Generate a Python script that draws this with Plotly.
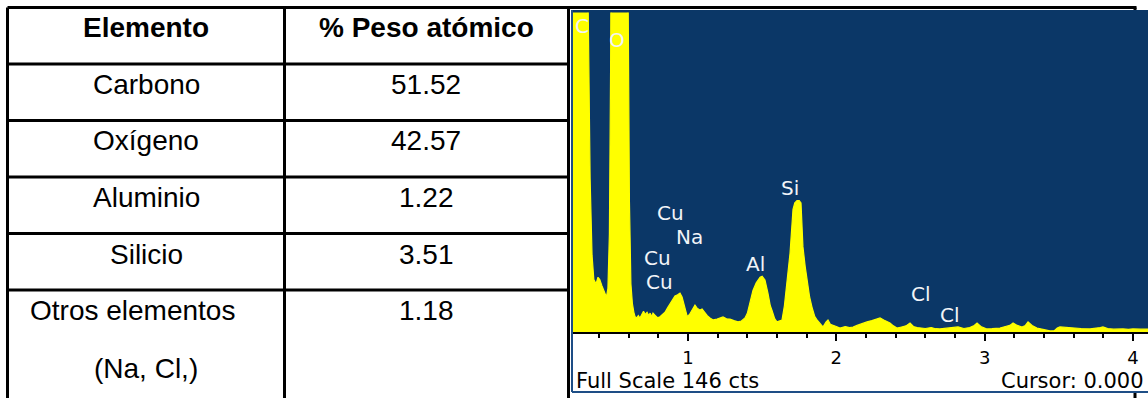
import plotly.graph_objects as go

# ---------------- data ----------------
table_header = ["Elemento", "% Peso atómico"]
elements = ["Carbono", "Oxígeno", "Aluminio", "Silicio", "Otros elementos"]
elements_note = "(Na, Cl,)"
atomic_percent = [51.52, 42.57, 1.22, 3.51, 1.18]

# EDS spectrum (energy in keV, counts)
energy_kev = [
    0.20, 0.225, 0.279, 0.31, 0.325, 0.34, 0.353, 0.365, 0.38, 0.393, 0.405, 0.42,
    0.435, 0.45, 0.46, 0.47, 0.478, 0.49, 0.535, 0.58, 0.595, 0.605, 0.615, 0.625,
    0.635, 0.643, 0.655, 0.665, 0.676, 0.69, 0.70, 0.712, 0.724, 0.735, 0.745, 0.755,
    0.764, 0.78, 0.795, 0.811, 0.825, 0.845, 0.862, 0.879, 0.895, 0.912, 0.93, 0.946,
    0.96, 0.98, 0.995, 1.01, 1.027, 1.047, 1.06, 1.081, 1.095, 1.115, 1.13, 1.148,
    1.17, 1.196, 1.215, 1.236, 1.26, 1.283, 1.31, 1.337, 1.36, 1.384, 1.40, 1.418,
    1.438, 1.46, 1.486, 1.50, 1.519, 1.539, 1.555, 1.566, 1.585, 1.60, 1.617, 1.634,
    1.65, 1.668, 1.688, 1.708, 1.72, 1.735, 1.75, 1.762, 1.775, 1.79, 1.802, 1.82,
    1.836, 1.855, 1.87, 1.89, 1.91, 1.93, 1.944, 1.96, 1.978, 2.0, 2.025, 2.06,
    2.09, 2.113, 2.14, 2.17, 2.207, 2.24, 2.27, 2.295, 2.32, 2.345, 2.362, 2.385,
    2.409, 2.44, 2.47, 2.497, 2.52, 2.545, 2.564, 2.6, 2.64, 2.67, 2.699, 2.74,
    2.78, 2.821, 2.86, 2.9, 2.93, 2.949, 2.975, 3.016, 3.05, 3.08, 3.104, 3.14,
    3.17, 3.192, 3.22, 3.252, 3.275, 3.293, 3.32, 3.353, 3.39, 3.441, 3.47, 3.49,
    3.508, 3.55, 3.6, 3.65, 3.711, 3.75, 3.78, 3.798, 3.83, 3.87, 3.9, 3.933,
    3.97, 4.0, 4.05, 4.095, 4.12,
]
counts = [
    600, 700, 950, 520, 160, 70, 35, 24, 22, 25, 24, 21,
    18, 16, 20, 45, 120, 320, 1000, 330, 160, 60, 22, 13,
    9, 7, 6.5, 7.5, 6.4, 8, 9.5, 8, 9, 7.5, 8.6, 7,
    8.6, 7.5, 6.5, 7, 8, 9, 11, 13, 15, 16.5, 17, 17.8,
    16, 11, 7, 8, 10, 12.3, 11, 10, 10.5, 8.6, 7.5, 6.4,
    5.5, 5.9, 6.5, 6.9, 6, 5.9, 5.2, 4.6, 5, 6.4, 8.5, 13,
    19, 22.5, 25, 25.5, 23.8, 17.8, 12, 10, 6, 4.6, 5, 5.5,
    12, 25, 36, 56, 59, 60, 60, 59, 39, 30, 24, 16,
    11.4, 7, 5.5, 4, 2.3, 4.5, 5.5, 3.5, 3.2, 2.5, 1.8, 2.5,
    2, 2.3, 3, 3.8, 4.6, 5.2, 5.8, 6.4, 5.5, 4.8, 4.1, 2.8,
    1.8, 2.3, 2.8, 4.1, 2.5, 2, 1.8, 1.6, 2, 1.5, 1.4, 1.8,
    2, 2.3, 1.6, 2, 3, 4.1, 2.5, 1.4, 1.5, 1.6, 1.8, 2.5,
    3, 4.1, 3, 2.3, 3, 4.6, 3, 1.8, 1.2, 0.5, 0.6, 1.8,
    2.3, 2, 1.8, 1.6, 1.4, 1.6, 2, 2.3, 1.6, 1.3, 1.5, 1.4,
    1.2, 1.4, 1.3, 1.4, 1.4,
]

# element markers on the spectrum
peak_labels = ["C", "O", "Si", "Cu", "Na", "Cu", "Cu", "Al", "Cl", "Cl"]
peak_label_kev = [0.285, 0.521, 1.688, 0.885, 1.013, 0.791, 0.811, 1.452, 2.571, 2.767]
peak_label_cts = [139.9, 133.5, 65.8, 54.4, 43.4, 33.8, 22.9, 31.1, 17.4, 7.8]

full_scale_cts = 146
cursor_kev = 0.000
energy_ticks = [1, 2, 3, 4]

# ---------------- layout helpers ----------------
W, H = 1148, 398
BLUE = "#0B3767"
YELLOW = "#FFFF00"
TABLE_FONT = "Liberation Sans, Arial, sans-serif"
SPEC_FONT = "DejaVu Sans, Verdana, sans-serif"


def fx(px):
    return px / W


def fy(py):
    return 1 - py / H


# table geometry (pixels)
t_left, t_mid, t_right = 7.5, 284.5, 568.5
t_top, row_h = 7.5, 56.5
text_off = 20.5  # cap centre below row top

# spectrum panel geometry (pixels)
p_left, p_right = 573, W
p_top, p_axis, p_bottom = 10, 332, 392
plot_top = 12.5

fig = go.Figure()

fig.add_trace(go.Scatter(
    x=energy_kev, y=counts, mode="lines",
    line=dict(color=YELLOW, width=1.2),
    fill="tozeroy", fillcolor=YELLOW,
    hoverinfo="skip", showlegend=False,
))

shapes = []
line_kw = dict(color="black", width=3)
# cell border hidden behind the spectrum image
shapes.append(dict(type="line", xref="paper", yref="paper", layer="below",
                   x0=fx(1135), x1=fx(1135), y0=fy(t_top), y1=0, line=line_kw))
# spectrum panel: blue plotting field and white scale strip
shapes.append(dict(type="rect", xref="paper", yref="paper", layer="below",
                   x0=fx(p_left), x1=1, y0=fy(p_axis), y1=fy(p_top),
                   fillcolor=BLUE, line=dict(width=0)))
shapes.append(dict(type="rect", xref="paper", yref="paper", layer="below",
                   x0=fx(p_left), x1=1, y0=fy(p_bottom), y1=fy(p_axis),
                   fillcolor="white", line=dict(width=0)))
shapes.append(dict(type="line", xref="paper", yref="paper", layer="above",
                   x0=fx(p_left - 1), x1=fx(p_left - 1), y0=fy(p_bottom), y1=fy(p_top),
                   line=dict(color="#1E4E86", width=2)))
shapes.append(dict(type="line", xref="paper", yref="paper", layer="above",
                   x0=fx(p_left - 1), x1=1, y0=fy(p_bottom), y1=fy(p_bottom),
                   line=dict(color="#1E4E86", width=2)))

# table grid
shapes.append(dict(type="line", xref="paper", yref="paper", x0=fx(t_left), x1=fx(1136.5),
                   y0=fy(t_top), y1=fy(t_top), line=line_kw))
for xv in (t_left, t_mid, t_right):
    shapes.append(dict(type="line", xref="paper", yref="paper", x0=fx(xv), x1=fx(xv),
                       y0=fy(t_top), y1=0, line=line_kw))
for k in range(1, len(elements) + 1):
    yv = t_top + k * row_h
    shapes.append(dict(type="line", xref="paper", yref="paper", x0=fx(t_left), x1=fx(t_right),
                       y0=fy(yv), y1=fy(yv), line=line_kw))

annotations = []
col_c1 = (t_left + t_mid) / 2
col_c2 = (t_mid + t_right) / 2


def cell_text(text, xc, yc, bold=False):
    annotations.append(dict(
        text=f"<b>{text}</b>" if bold else text,
        xref="paper", yref="paper", x=fx(xc), y=fy(yc),
        xanchor="center", yanchor="middle", showarrow=False,
        font=dict(family=TABLE_FONT, size=28, color="black"),
    ))


cell_text(table_header[0], col_c1, t_top + text_off, bold=True)
cell_text(table_header[1], col_c2, t_top + text_off, bold=True)
for i, (name, val) in enumerate(zip(elements, atomic_percent)):
    row_top = t_top + (i + 1) * row_h
    xc = col_c1 if i < len(elements) - 1 else col_c1 - 14
    cell_text(name, xc, row_top + text_off)
    cell_text(f"{val:.2f}", col_c2, row_top + text_off)
cell_text(elements_note, col_c1, t_top + len(elements) * row_h + text_off + 58)

# element labels over the peaks
for lab, ek, ck in zip(peak_labels, peak_label_kev, peak_label_cts):
    annotations.append(dict(
        text=lab, x=ek, y=ck, xref="x", yref="y",
        xanchor="center", yanchor="middle", showarrow=False,
        font=dict(family=SPEC_FONT, size=20, color="#F2F4F8"),
    ))

# status line under the energy scale
annotations.append(dict(
    text=f"Full Scale {full_scale_cts} cts", xref="paper", yref="paper",
    x=fx(p_left + 1), y=fy(381), xanchor="left", yanchor="middle", showarrow=False,
    font=dict(family=SPEC_FONT, size=21, color="black"),
))
annotations.append(dict(
    text=f"Cursor: {cursor_kev:.3f}", xref="paper", yref="paper",
    x=fx(1146), y=fy(381), xanchor="right", yanchor="middle", showarrow=False,
    font=dict(family=SPEC_FONT, size=21, color="black"),
))

# energy scale: 1 keV at x=688 px, 148.3 px per keV
kev_px = 148.3
x_lo = 1 + (p_left - 688) / kev_px
x_hi = 1 + (p_right - 688) / kev_px

fig.update_layout(
    width=W, height=H,
    margin=dict(l=0, r=0, t=0, b=0),
    paper_bgcolor="white",
    plot_bgcolor="rgba(0,0,0,0)",
    shapes=shapes,
    annotations=annotations,
    showlegend=False,
    xaxis=dict(
        domain=[fx(p_left), 1], range=[x_lo, x_hi],
        showgrid=False, zeroline=False,
        showline=True, linecolor="black", linewidth=2,
        ticks="outside", ticklen=7, tickwidth=2, tickcolor="black",
        tickvals=energy_ticks, ticktext=[str(t) for t in energy_ticks],
        ticklabelstandoff=1,
        tickfont=dict(family=SPEC_FONT, size=18, color="black"),
        minor=dict(ticks="outside", dtick=0.2, tick0=0, ticklen=4,
                   tickwidth=2, tickcolor="black", showgrid=False),
        fixedrange=True,
    ),
    yaxis=dict(
        domain=[fy(p_axis), fy(plot_top)], range=[0, full_scale_cts],
        showgrid=False, zeroline=False, showline=False,
        showticklabels=False, ticks="", fixedrange=True,
    ),
)

fig.write_html("out.html")
